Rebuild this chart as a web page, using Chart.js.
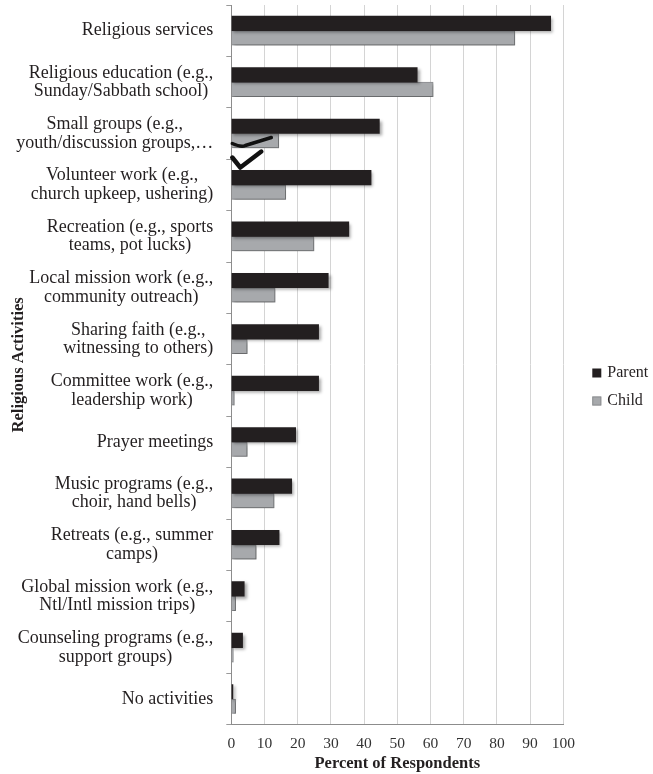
<!DOCTYPE html>
<html>
<head>
<meta charset="utf-8">
<script src="https://cdn.jsdelivr.net/npm/chart.js@4.4.1/dist/chart.umd.min.js"></script>
<style>
  html, body { margin: 0; padding: 0; background: #fff; }
  #wrap { width: 653px; height: 774px; position: relative; }
</style>
</head>
<body>
<div id="wrap"><canvas id="c"></canvas></div>
<script>
// category labels, one array of lines per bar group
const categories = [
  ['Religious services'],
  ['Religious education (e.g.,', 'Sunday/Sabbath school)'],
  ['Small groups (e.g.,', 'youth/discussion groups,\u2026'],
  ['Volunteer work (e.g.,', 'church upkeep, ushering)'],
  ['Recreation (e.g., sports', 'teams, pot lucks)'],
  ['Local mission work (e.g.,', 'community outreach)'],
  ['Sharing faith (e.g.,', 'witnessing to others)'],
  ['Committee work (e.g.,', 'leadership work)'],
  ['Prayer meetings'],
  ['Music programs (e.g.,', 'choir, hand bells)'],
  ['Retreats (e.g., summer', 'camps)'],
  ['Global mission work (e.g.,', 'Ntl/Intl mission trips)'],
  ['Counseling programs (e.g.,', 'support groups)'],
  ['No activities'],
];
const parentValues = [96.2, 56.0, 44.6, 42.1, 35.4, 29.2, 26.3, 26.3, 19.4, 18.2, 14.4, 3.9, 3.4, 0.5];
const childValues = [85.4, 60.8, 14.3, 16.4, 24.9, 13.2, 4.8, 0.9, 4.8, 12.9, 7.5, 1.3, 0.6, 1.3];
const xMin = 0;
const xMax = 100;
const xStep = 10;

const SERIF = '"Liberation Serif", "Times New Roman", serif';
const INK = '#231f20';

// soft drop shadow under the bars, like the Office original
const shadowPlugin = {
  id: 'barShadow',
  beforeDatasetsDraw(chart) {
    const c = chart.ctx;
    c.save();
    c.shadowColor = 'rgba(0,0,0,0.35)';
    c.shadowBlur = 3;
    c.shadowOffsetX = 2;
    c.shadowOffsetY = 2;
  },
  afterDatasetsDraw(chart) {
    chart.ctx.restore();
  },
};

// the two stray check marks near the third group
const checkPlugin = {
  id: 'checks',
  afterDatasetsDraw(chart) {
    const c = chart.ctx;
    const x0 = chart.scales.x.getPixelForValue(0);
    const y0 = chart.scales.y.getPixelForValue(2);
    c.save();
    c.strokeStyle = '#111';
    c.lineCap = 'round';
    c.lineJoin = 'round';
    c.lineWidth = 3.5;
    c.beginPath();
    c.moveTo(x0 + 1, y0 + 10);
    c.quadraticCurveTo(x0 + 10, y0 + 14, x0 + 14, y0 + 12);
    c.lineTo(x0 + 40, y0 + 4);
    c.stroke();
    c.lineWidth = 4.5;
    c.beginPath();
    c.moveTo(x0 + 1, y0 + 24);
    c.lineTo(x0 + 9, y0 + 34);
    c.lineTo(x0 + 30, y0 + 18);
    c.stroke();
    c.restore();
  },
};

// multi-line labels: block right aligned, lines centred within the block
const labelPlugin = {
  id: 'catLabels',
  afterDraw(chart) {
    const y = chart.scales.y;
    const c = chart.ctx;
    c.save();
    c.font = '18px ' + SERIF;
    c.fillStyle = INK;
    c.textAlign = 'center';
    c.textBaseline = 'middle';
    categories.forEach((lines, i) => {
      const w = Math.max(...lines.map((l) => c.measureText(l).width));
      const cx = chart.chartArea.left - 18 - w / 2;
      const cy = y.getPixelForTick(i);
      lines.forEach((l, j) => {
        c.fillText(l, cx, cy + (j - (lines.length - 1) / 2) * 18.5);
      });
    });
    c.restore();
  },
};

// legend drawn in the right margin, centred on the canvas height
const legendPlugin = {
  id: 'sideLegend',
  afterDraw(chart) {
    const c = chart.ctx;
    const sets = chart.data.datasets;
    const mid = chart.height / 2;
    c.save();
    c.font = '16px ' + SERIF;
    c.textAlign = 'left';
    c.textBaseline = 'middle';
    sets.forEach((ds, i) => {
      const cy = mid + (i - (sets.length - 1) / 2) * 28;
      const bx = chart.chartArea.right + 29;
      c.fillStyle = ds.backgroundColor;
      c.fillRect(bx, cy - 4.5, 9, 9);
      if (ds.borderWidth) {
        c.strokeStyle = ds.borderColor;
        c.lineWidth = 1;
        c.strokeRect(bx + 0.5, cy - 4, 8, 8);
      }
      c.fillStyle = INK;
      c.fillText(ds.label, bx + 15, cy);
    });
    c.restore();
  },
};

new Chart(document.getElementById('c'), {
  type: 'bar',
  data: {
    labels: categories.map((l) => l.join(' ')),
    datasets: [
      {
        label: 'Parent',
        data: parentValues,
        backgroundColor: INK,
        borderColor: INK,
        borderWidth: 0,
        barThickness: 14.5,
      },
      {
        label: 'Child',
        data: childValues,
        backgroundColor: '#a7a9ac',
        borderColor: '#8d8f92',
        borderWidth: 1,
        barThickness: 14.5,
      },
    ],
  },
  options: {
    indexAxis: 'y',
    responsive: true,
    maintainAspectRatio: false,
    animation: false,
    layout: { padding: { top: 5, right: 89.7, left: 0, bottom: 0 } },
    plugins: {
      tooltip: { enabled: false },
      legend: { display: false },
    },
    scales: {
      x: {
        min: xMin,
        max: xMax,
        ticks: {
          stepSize: xStep,
          color: '#333',
          padding: 10,
          font: { family: SERIF, size: 15.5 },
        },
        grid: { color: '#d4d4d4', drawTicks: false },
        border: { color: '#8c8c8c' },
        title: {
          display: true,
          text: 'Percent of Respondents',
          color: INK,
          font: { family: SERIF, size: 16.5, weight: 'bold' },
          padding: { top: 0, bottom: 0 },
        },
        afterFit(s) { s.height = 49.3; },
      },
      y: {
        ticks: { display: false },
        grid: { drawOnChartArea: false, tickLength: 5, color: '#9a9a9a', offset: true },
        border: { color: '#8c8c8c' },
        title: {
          display: true,
          text: 'Religious Activities',
          color: INK,
          font: { family: SERIF, size: 16.5, weight: 'bold' },
          padding: { top: 8.4, bottom: 0 },
        },
        afterFit(s) { s.width = 231.3; },
      },
    },
  },
  plugins: [shadowPlugin, checkPlugin, labelPlugin, legendPlugin],
});
</script>
</body>
</html>
